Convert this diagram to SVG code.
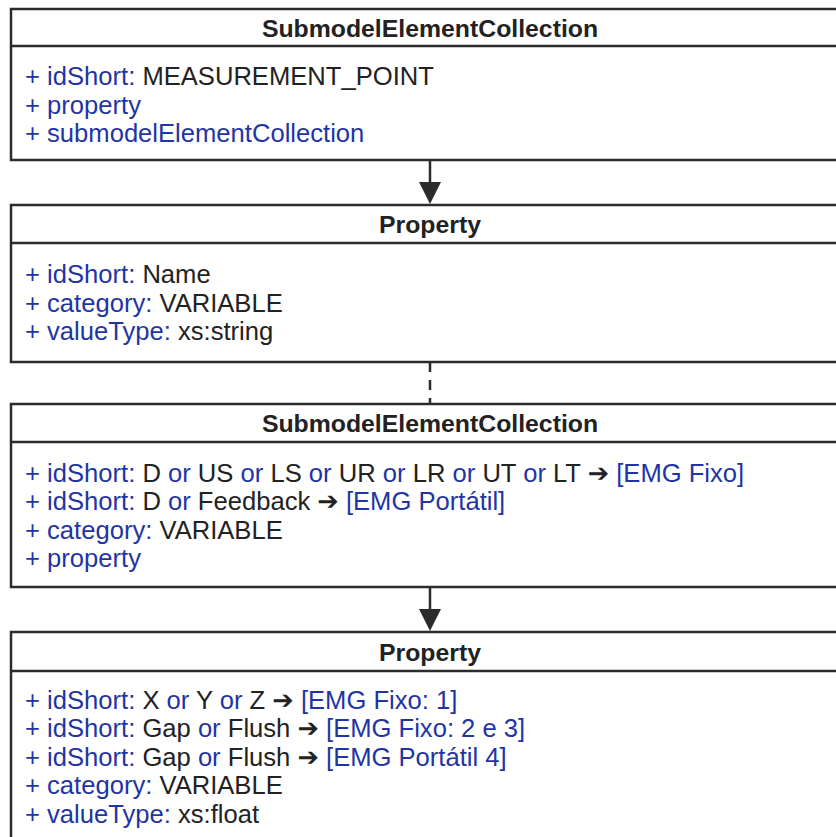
<svg xmlns="http://www.w3.org/2000/svg" width="836" height="837" viewBox="0 0 836 837">
  <style>
    .box { fill: #ffffff; stroke: #2b2b2b; stroke-width: 2.5; }
    .sep { stroke: #2b2b2b; stroke-width: 2.5; }
    .title { font-family: "Liberation Sans", Arial, sans-serif; font-size: 24.8px; font-weight: bold; fill: #222222; text-anchor: middle; }
    .attr { font-family: "Liberation Sans", Arial, "DejaVu Sans", sans-serif; font-size: 25.6px; fill: #222222; }
    .k { fill: #1f35a5; }
    .edge { stroke: #2b2b2b; stroke-width: 2.5; fill: none; }
    .dash { stroke-dasharray: 10 8; }
  </style>

  <rect width="836" height="837" fill="#ffffff"/>

  <!-- connectors between the class boxes -->
  <g id="connectors">
    <line class="edge" x1="430" y1="160" x2="430" y2="182"/>
    <path d="M419,182 L441,182 L430,204 z" fill="#2b2b2b"/>
    <line class="edge dash" x1="430" y1="362" x2="430" y2="404"/>
    <line class="edge" x1="430" y1="587" x2="430" y2="609"/>
    <path d="M419,609 L441,609 L430,631 z" fill="#2b2b2b"/>
  </g>

  <!-- SubmodelElementCollection: measurement point -->
  <g id="node-measurement-point">
    <rect class="box" x="11" y="9" width="840" height="151"/>
    <line class="sep" x1="11" y1="46" x2="851" y2="46"/>
    <text class="title" x="430" y="37">SubmodelElementCollection</text>
    <text class="attr" x="25" y="85">
      <tspan class="k">+ idShort:</tspan> MEASUREMENT_POINT</text>
    <text class="attr" x="25" y="113.5"><tspan class="k">+ property</tspan></text>
    <text class="attr" x="25" y="142"><tspan class="k">+ submodelElementCollection</tspan></text>
  </g>

  <!-- Property: Name -->
  <g id="node-property-name">
    <rect class="box" x="11" y="205" width="840" height="157"/>
    <line class="sep" x1="11" y1="243" x2="851" y2="243"/>
    <text class="title" x="430" y="233">Property</text>
    <text class="attr" x="25" y="283"><tspan class="k">+ idShort:</tspan> Name</text>
    <text class="attr" x="25" y="311.5"><tspan class="k">+ category:</tspan> VARIABLE</text>
    <text class="attr" x="25" y="340"><tspan class="k">+ valueType:</tspan> xs:string</text>
  </g>

  <!-- SubmodelElementCollection: sensor position -->
  <g id="node-sensor-collection">
    <rect class="box" x="11" y="404" width="840" height="183"/>
    <line class="sep" x1="11" y1="442" x2="851" y2="442"/>
    <text class="title" x="430" y="432">SubmodelElementCollection</text>
    <text class="attr" x="25" y="481.5"><tspan class="k">+ idShort:</tspan> D <tspan class="k">or</tspan> US <tspan class="k">or</tspan> LS <tspan class="k">or</tspan> UR <tspan class="k">or</tspan> LR <tspan class="k">or</tspan> UT <tspan class="k">or</tspan> LT ➔ <tspan class="k">[EMG Fixo]</tspan></text>
    <text class="attr" x="25" y="510"><tspan class="k">+ idShort:</tspan> D <tspan class="k">or</tspan> Feedback ➔ <tspan class="k">[EMG Portátil]</tspan></text>
    <text class="attr" x="25" y="538.5"><tspan class="k">+ category:</tspan> VARIABLE</text>
    <text class="attr" x="25" y="567"><tspan class="k">+ property</tspan></text>
  </g>

  <!-- Property: axis / gap values -->
  <g id="node-property-values">
    <rect class="box" x="11" y="632" width="840" height="230"/>
    <line class="sep" x1="11" y1="671" x2="851" y2="671"/>
    <text class="title" x="430" y="661">Property</text>
    <text class="attr" x="25" y="708.5"><tspan class="k">+ idShort:</tspan> X <tspan class="k">or</tspan> Y <tspan class="k">or</tspan> Z ➔ <tspan class="k">[EMG Fixo: 1]</tspan></text>
    <text class="attr" x="25" y="737"><tspan class="k">+ idShort:</tspan> Gap <tspan class="k">or</tspan> Flush ➔ <tspan class="k">[EMG Fixo: 2 e 3]</tspan></text>
    <text class="attr" x="25" y="765.5"><tspan class="k">+ idShort:</tspan> Gap <tspan class="k">or</tspan> Flush ➔ <tspan class="k">[EMG Portátil 4]</tspan></text>
    <text class="attr" x="25" y="794"><tspan class="k">+ category:</tspan> VARIABLE</text>
    <text class="attr" x="25" y="822.5"><tspan class="k">+ valueType:</tspan> xs:float</text>
  </g>
</svg>
